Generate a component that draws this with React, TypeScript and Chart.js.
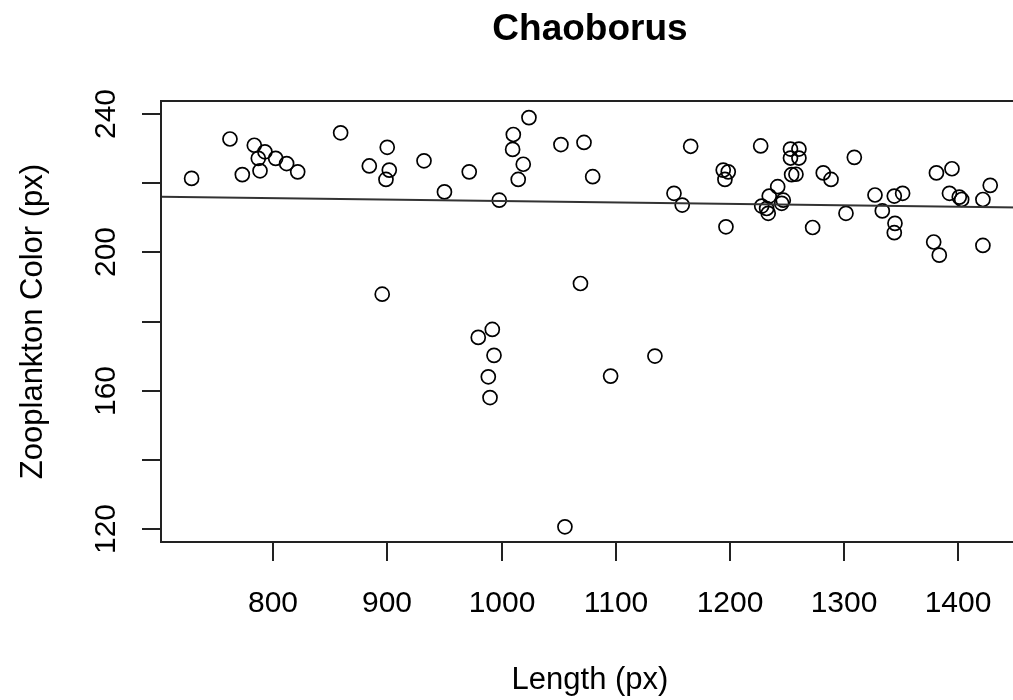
import React, { useEffect, useRef } from "react";
import { Chart, registerables } from "chart.js";

Chart.register(...registerables);

const chartTitle = "Chaoborus";
const xAxisTitle = "Length (px)";
const yAxisTitle = "Zooplankton Color (px)";

const lengthValues = [
  728.5, 762.1, 772.9, 783.4, 792.7, 786.9, 788.4, 802.1, 811.7, 821.4,
  859.0, 884.1, 899.8, 901.6, 898.7, 932.0, 949.9, 895.4, 971.6, 997.9,
  1023.9, 1010.2, 1009.6, 1018.9, 1014.5, 1051.9, 1072.1, 1079.7, 1069.0, 1165.5,
  1150.9, 1158.1, 1194.0, 1198.4, 1195.5, 1196.4, 979.5, 991.8, 993.3, 988.3,
  989.8, 1134.2, 1095.4, 1055.4, 1226.8, 1252.9, 1260.3, 1252.9, 1260.3, 1253.9,
  1257.7, 1241.7, 1234.3, 1227.7, 1233.4, 1246.6, 1245.2, 1232.0, 1281.6, 1288.4,
  1308.8, 1272.3, 1301.5, 1326.9, 1333.3, 1343.8, 1351.1, 1344.4, 1343.8, 1380.7,
  1394.3, 1392.1, 1400.7, 1402.8, 1378.3, 1383.2, 1427.8, 1421.4, 1421.4,
];

const colorValues = [
  221.4, 232.8, 222.5, 231.0, 229.1, 227.2, 223.6, 227.2, 225.7, 223.3,
  234.6, 225.0, 230.4, 223.8, 221.1, 226.5, 217.5, 187.9, 223.3, 215.1,
  239.0, 234.1, 229.8, 225.5, 221.1, 231.2, 231.8, 221.9, 191.0, 230.7,
  217.1, 213.7, 223.8, 223.3, 221.1, 207.4, 175.4, 177.7, 170.2, 164.0,
  158.0, 170.0, 164.2, 120.6, 230.8, 229.9, 229.9, 227.3, 227.3, 222.5,
  222.6, 219.0, 216.3, 213.4, 211.3, 215.1, 214.2, 212.7, 223.0, 221.1,
  227.5, 207.2, 211.3, 216.6, 212.0, 216.3, 217.1, 208.4, 205.7, 223.0,
  224.2, 217.1, 216.0, 215.3, 203.0, 199.2, 219.4, 215.3, 202.0,
];

const fitX = [700, 1455];
const fitY = [216.11, 212.97];

const xTicks = [800, 900, 1000, 1100, 1200, 1300, 1400];
const xTickLabels = ["800", "900", "1000", "1100", "1200", "1300", "1400"];
const yTicks = [120, 140, 160, 180, 200, 220, 240];
const yTickLabels = ["120", "", "160", "", "200", "", "240"];

const X_MIN = 701.7;
const X_MAX = 1453;
const Y_MIN = 116.2;
const Y_MAX = 243.8;

const FONT = "'Liberation Sans', Arial, Helvetica, sans-serif";

const rAxesPlugin = {
  id: "rAxes",
  afterDraw(chart: any) {
    const ctx = chart.ctx;
    const area = chart.chartArea;
    const xs = chart.scales.x;
    const ys = chart.scales.y;
    const tick = 19;
    ctx.save();
    ctx.strokeStyle = "#222";
    ctx.lineWidth = 2;
    ctx.strokeRect(area.left, area.top, area.right - area.left, area.bottom - area.top);

    ctx.fillStyle = "#000";
    ctx.font = `30px ${FONT}`;
    // x ticks
    ctx.textAlign = "center";
    ctx.textBaseline = "alphabetic";
    xTicks.forEach((v, i) => {
      const px = Math.round(xs.getPixelForValue(v));
      ctx.beginPath();
      ctx.moveTo(px, area.bottom);
      ctx.lineTo(px, area.bottom + tick);
      ctx.stroke();
      ctx.fillText(xTickLabels[i], px, 612);
    });
    // y ticks
    yTicks.forEach((v, i) => {
      const py = Math.round(ys.getPixelForValue(v));
      ctx.beginPath();
      ctx.moveTo(area.left, py);
      ctx.lineTo(area.left - tick, py);
      ctx.stroke();
      if (yTickLabels[i]) {
        ctx.save();
        ctx.translate(115, py);
        ctx.rotate(-Math.PI / 2);
        ctx.textAlign = "center";
        ctx.fillText(yTickLabels[i], 0, 0);
        ctx.restore();
      }
    });
    // axis titles
    ctx.font = `31px ${FONT}`;
    ctx.textAlign = "center";
    const cx = (area.left + area.right) / 2;
    ctx.fillText(xAxisTitle, cx, 689);
    ctx.save();
    ctx.translate(42, (area.top + area.bottom) / 2);
    ctx.rotate(-Math.PI / 2);
    ctx.fillText(yAxisTitle, 0, 0);
    ctx.restore();
    // main title
    ctx.font = `bold 37px ${FONT}`;
    ctx.fillText(chartTitle, cx, 40);
    ctx.restore();
  },
};

export default function App() {
  const ref = useRef<HTMLCanvasElement | null>(null);
  useEffect(() => {
    if (!ref.current) return;
    const points = lengthValues.map((x, i) => ({ x, y: colorValues[i] }));
    const line = fitX.map((x, i) => ({ x, y: fitY[i] }));
    const chart = new Chart(ref.current, {
      type: "scatter",
      data: {
        datasets: [
          {
            type: "line",
            data: line,
            borderColor: "#333",
            borderWidth: 2,
            pointRadius: 0,
            fill: false,
          } as any,
          {
            data: points,
            pointStyle: "circle",
            pointRadius: 7,
            pointBorderWidth: 1.7,
            borderColor: "#000",
            backgroundColor: "rgba(0,0,0,0)",
          } as any,
        ],
      },
      options: {
        animation: false,
        responsive: false,
        events: [],
        layout: { padding: { left: 161, top: 101, right: 21, bottom: 158 } },
        plugins: { legend: { display: false }, tooltip: { enabled: false }, title: { display: false } },
        scales: {
          x: { type: "linear", min: X_MIN, max: X_MAX, display: false },
          y: { type: "linear", min: Y_MIN, max: Y_MAX, display: false },
        },
      },
      plugins: [rAxesPlugin],
    });
    return () => chart.destroy();
  }, []);
  return (
    <div style={{ position: "fixed", left: 0, top: 0, width: 1013, height: 700, overflow: "hidden", background: "#fff" }}>
      <canvas ref={ref} width={1040} height={700} style={{ display: "block", width: 1040, height: 700 }} />
    </div>
  );
}
